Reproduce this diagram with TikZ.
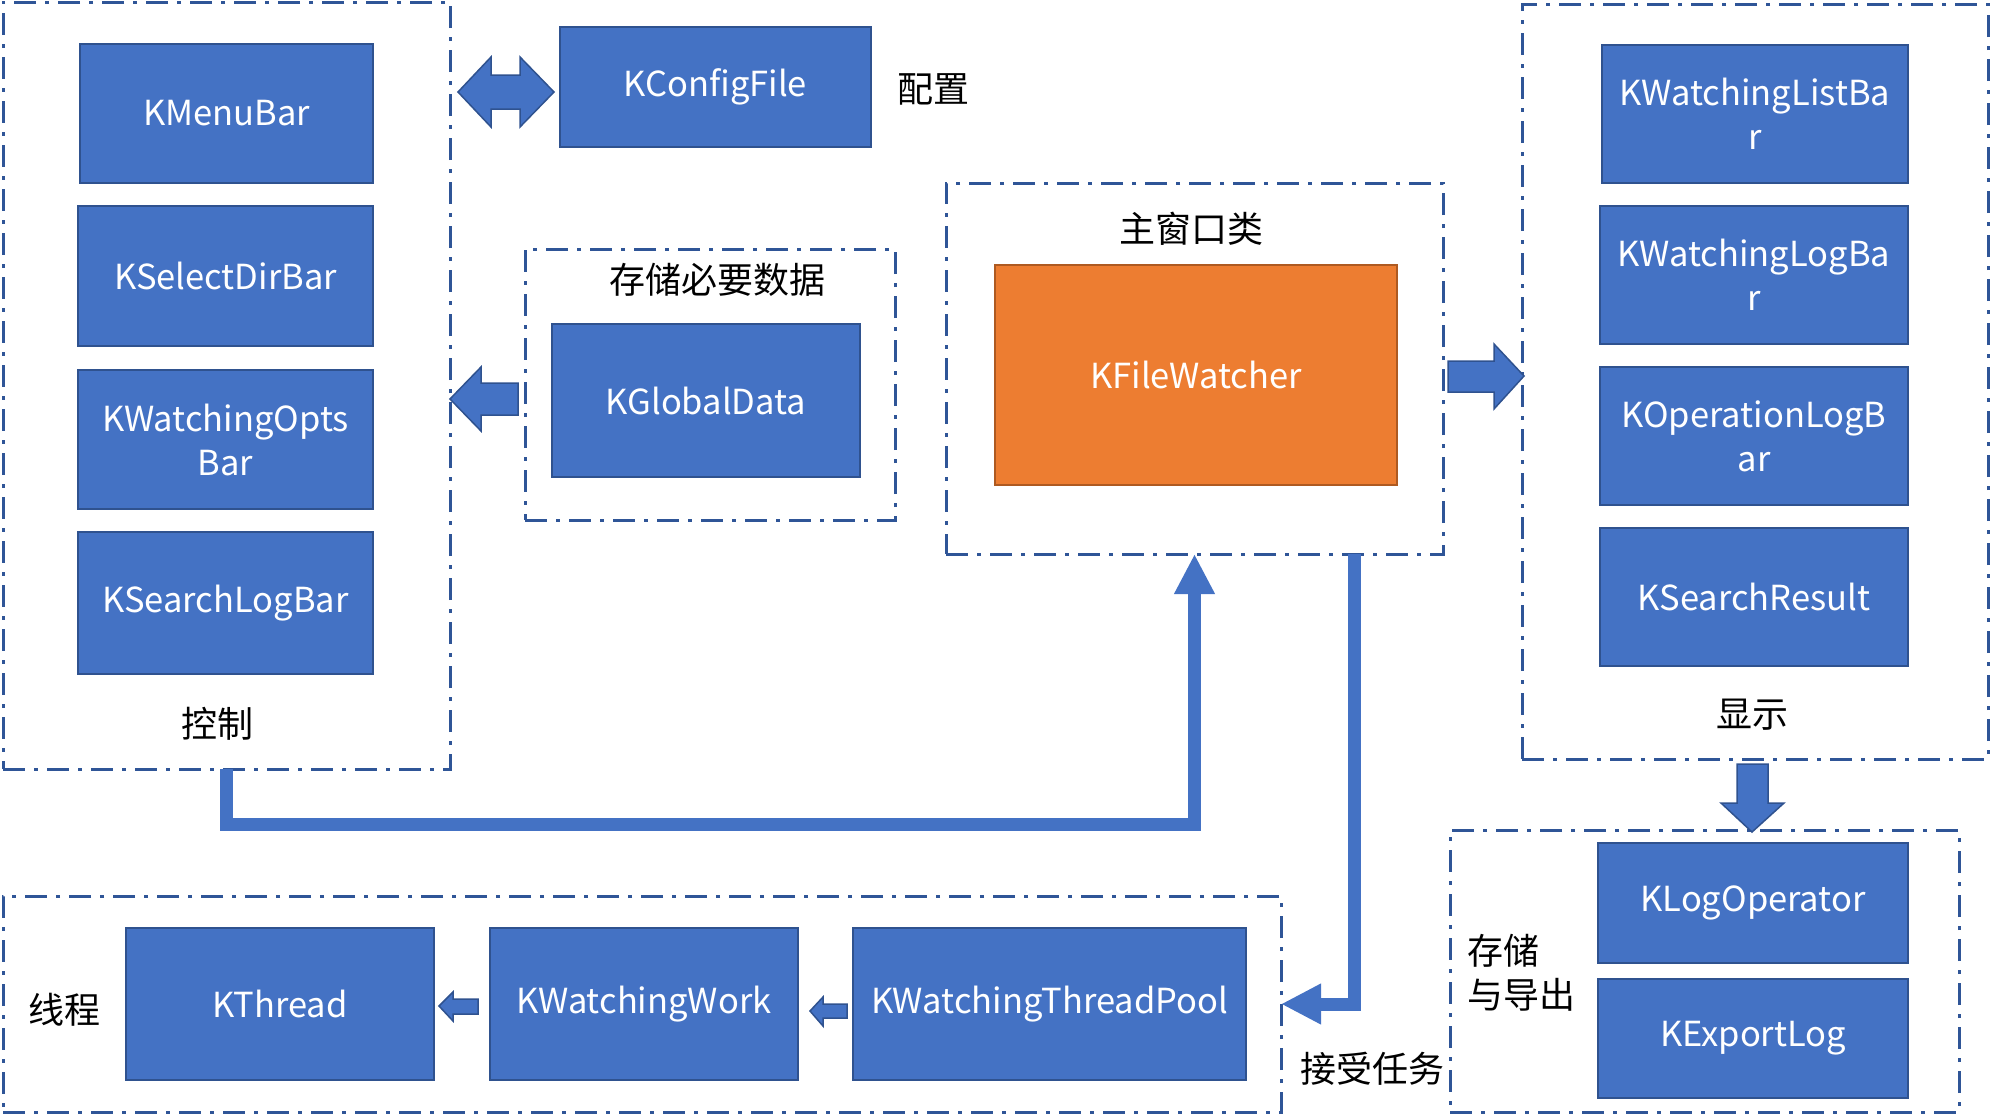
\documentclass[tikz,border=0pt]{standalone}
\usepackage{fontspec}
\setmainfont{Noto Sans CJK SC}
\usetikzlibrary{arrows.meta}
\definecolor{boxfill}{HTML}{4472C4}
\definecolor{boxline}{HTML}{2F528F}
\definecolor{grpline}{HTML}{2F5597}
\definecolor{orfill}{HTML}{ED7D31}
\definecolor{orline}{HTML}{AE5A21}
\tikzset{
 grp/.style={draw=grpline, line width=3pt, dash pattern=on 22pt off 9pt on 4pt off 9pt},
 box/.style={fill=boxfill, draw=boxline, line width=2pt, text=white, align=center, font=\fontsize{34.5}{44}\selectfont},
 orbox/.style={box, fill=orfill, draw=orline},
 lbl/.style={font=\fontsize{36}{44}\selectfont, text=black, align=left, inner sep=0pt},
 blk/.style={fill=boxfill, draw=boxline, line width=1.5pt, line join=miter},
 conn/.style={draw=boxfill, line width=13pt, -{Triangle[width=38pt,length=40pt]}}
}
\newcommand\mkbox[7]{%
  \node[#2, inner sep=0pt, outer sep=0pt, minimum width={(#5-#3)*1pt}, minimum height={(#6-#4)*1pt}]
    (#1) at ({(#3+#5)/2},{(#4+#6)/2}) {#7};}
\begin{document}
\begin{tikzpicture}[x=1pt,y=-1pt]
\path[use as bounding box] (0,0) rectangle (1991,1114);
% groups
\mkbox{ctrl}{grp}{3}{2}{450}{769}{}
\mkbox{data}{grp}{525}{249}{895}{520}{}
\mkbox{mainwin}{grp}{946}{183}{1443}{554}{}
\mkbox{disp}{grp}{1522}{4}{1988}{759}{}
\mkbox{thr}{grp}{3}{896}{1281}{1112}{}
\mkbox{exp}{grp}{1450}{830}{1959}{1112}{}
% boxes
\mkbox{menubar}{box}{80}{44}{373}{183}{KMenuBar}
\mkbox{seldir}{box}{78}{206}{373}{346}{KSelectDirBar}
\mkbox{opts}{box}{78}{370}{373}{509}{KWatchingOpts\\Bar}
\mkbox{searchlog}{box}{78}{532}{373}{674}{KSearchLogBar}
\mkbox{config}{box}{560}{27}{871}{147}{KConfigFile}
\mkbox{global}{box}{552}{324}{860}{477}{KGlobalData}
\mkbox{fw}{orbox}{995}{265}{1397}{485}{KFileWatcher}
\mkbox{listbar}{box}{1602}{45}{1908}{183}{KWatchingListBa\\r}
\mkbox{logbar}{box}{1600}{206}{1908}{344}{KWatchingLogBa\\r}
\mkbox{oplog}{box}{1600}{367}{1908}{505}{KOperationLogB\\ar}
\mkbox{sresult}{box}{1600}{528}{1908}{666}{KSearchResult}
\mkbox{logop}{box}{1598}{843}{1908}{963}{KLogOperator}
\mkbox{export}{box}{1598}{979}{1908}{1098}{KExportLog}
\mkbox{thread}{box}{126}{928}{434}{1080}{KThread}
\mkbox{work}{box}{490}{928}{798}{1080}{KWatchingWork}
\mkbox{pool}{box}{853}{928}{1246}{1080}{KWatchingThreadPool}
% labels
\node[lbl] (lcfg) at (933,89) {配置};
\node[lbl] (ldata) at (717,280) {存储必要数据};
\node[lbl] (lmain) at (1191,229) {主窗口类};
\node[lbl] (lctrl) at (217,724) {控制};
\node[lbl] (ldisp) at (1752,715) {显示};
\node[lbl] (lthr) at (64,1010) {线程};
\node[lbl] (ltask) at (1372,1069) {接受任务};
\node[lbl, anchor=west] (lexp) at (1467,973) {存储\\与导出};
% block arrows
\draw[blk] (458,92) -- (491,57) -- (491,75) -- (520,75) -- (520,57) -- (554,92) -- (520,127) -- (520,109) -- (491,109) -- (491,127) -- cycle;
\draw[blk] (450,399) -- (481,367) -- (481,383) -- (518,383) -- (518,415) -- (481,415) -- (481,431) -- cycle;
\draw[blk] (1448,361) -- (1494,361) -- (1494,344) -- (1524,376) -- (1494,409) -- (1494,392) -- (1448,392) -- cycle;
\draw[blk] (1737,764) -- (1768,764) -- (1768,803) -- (1784,803) -- (1752,832) -- (1721,803) -- (1737,803) -- cycle;
\draw[blk] (439,1006) -- (453,992) -- (453,999) -- (478,999) -- (478,1014) -- (453,1014) -- (453,1021) -- cycle;
\draw[blk] (810,1011) -- (823,997) -- (823,1004) -- (847,1004) -- (847,1018) -- (823,1018) -- (823,1026) -- cycle;
% connectors
\draw[conn] (ctrl.south) -- ++(0,55) -| (mainwin.south);
\draw[conn] ([xshift=160pt]mainwin.south) |- (thr.east);
\end{tikzpicture}
\end{document}
